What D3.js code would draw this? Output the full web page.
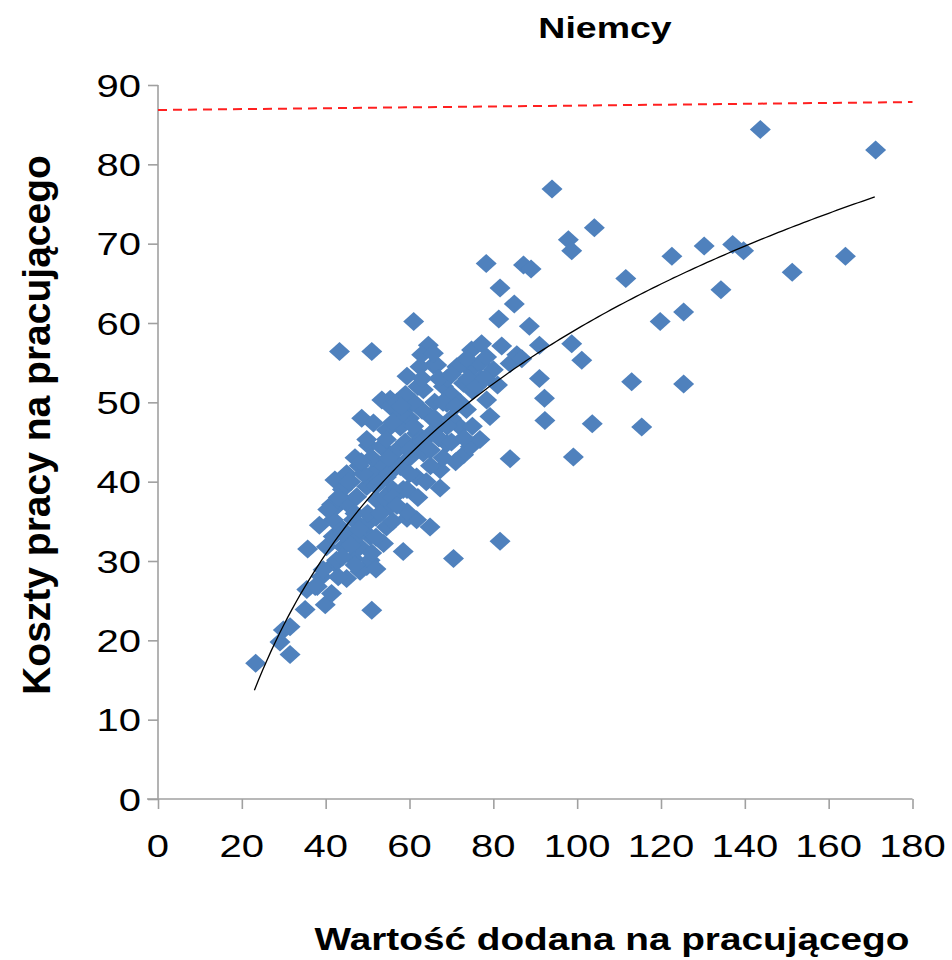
<!DOCTYPE html>
<html>
<head>
<meta charset="utf-8">
<script src="https://cdn.jsdelivr.net/npm/d3@7"></script>
<style>
  html, body { margin: 0; padding: 0; background: #fff; }
  svg text { font-family: "Liberation Sans", Arial, sans-serif; }
</style>
</head>
<body>
<svg id="chart" width="952" height="960"></svg>
<script>
// ---- data ----
const title = "Niemcy";
const xTitle = "Wartość dodana na pracującego";
const yTitle = "Koszty pracy na pracującego";
const xTicks = [0, 20, 40, 60, 80, 100, 120, 140, 160, 180];
const yTicks = [0, 10, 20, 30, 40, 50, 60, 70, 80, 90];
// scatter: value added per worker (x) vs labour cost per worker (y)
const valueAdded = [
  23.3,31.5,29.1,29.9,31.5,51.0,35.1,39.9,35.5,37.5,41.4,39.0,45.0,49.8,42.2,35.7,70.5,81.6,
  39.4,48.2,42.6,46.6,50.6,40.2,44.2,48.2,53.8,58.5,41.8,45.8,50.6,41.8,46.6,49.8,54.5,59.4,61.7,64.9,
  42.6,41.4,45.0,47.4,52.2,55.4,59.4,49.8,58.5,42.2,61.7,53.0,56.1,50.2,53.3,58.5,
  59.4,67.3,54.5,57.8,67.3,63.3,72.9,84.0,68.9,74.5,76.8,61.7,57.8,72.1,64.9,79.2,60.1,55.4,68.9,73.6,
  78.4,63.3,68.1,72.9,81.0,59.4,65.7,71.3,74.5,76.8,80.0,84.0,
  43.3,51.0,61.0,53.4,55.4,48.6,51.4,54.5,49.8,54.5,
  78.3,62.5,66.5,72.1,64.5,62.9,65.7,74.8,77.2,73.6,78.4,85.6,
  143.7,171.2,94.0,104.1,97.9,98.7,87.2,89.0,122.6,130.3,137.1,139.7,164.0,151.3,111.6,134.3,
  81.6,85.0,81.3,88.6,119.8,125.4,82.0,91.0,98.7,101.1,86.8,91.0,92.2,92.3,103.6,115.4,113.0,125.4,99.1,
  46.0,48.0,51.0,44.0,47.0,52.0,56.0,57.0,60.0,62.0,65.0,67.0,70.0,66.0,63.0,60.0,58.0,57.0,62.0,70.0,
  75.0,77.0,69.0,67.0,70.0,71.0,65.0,64.0,60.0,62.0,56.0,52.0,44.0,47.0,43.0,38.0,
  44.0,46.0,48.0,50.0,52.0,53.0,54.0,56.0,43.0,45.0,47.0,49.0,51.0,53.0,55.0,57.0,44.0,47.0,51.0,52.0,
  59.0,61.0,63.0,65.0,66.0,68.0,61.0,59.0,63.0,67.0,70.0,72.0,74.0,76.0,78.0,75.0,73.0,69.0,71.0,68.0,
  56.0,58.0,60.0,55.0,40.5,38.5,45.5,48.5
];
const labourCost = [
  17.1,18.2,19.8,21.3,21.7,23.8,23.9,24.5,26.4,26.8,25.9,28.0,27.8,29.3,29.7,31.5,30.3,32.5,
  28.9,28.7,30.1,30.3,30.1,31.8,31.8,31.8,32.2,31.2,33.1,33.1,33.1,35.2,35.2,34.7,34.3,35.4,35.2,34.3,
  36.9,37.1,37.3,38.1,37.7,36.9,36.2,39.4,39.0,40.2,40.6,41.9,42.7,44.6,44.4,44.6,
  39.0,39.2,40.6,41.9,41.5,43.6,43.4,42.9,44.8,44.4,45.3,46.1,46.9,46.9,48.2,48.2,49.7,50.4,49.9,49.1,
  50.3,51.6,52.0,52.4,52.2,53.3,54.7,54.5,54.1,54.9,54.1,54.9,
  56.4,56.4,60.2,50.3,49.5,48.0,47.4,46.5,45.3,45.3,
  67.5,54.5,54.7,54.7,57.2,56.0,56.2,56.6,57.4,55.5,55.7,56.0,
  84.4,81.8,76.9,72.0,70.5,69.1,67.3,66.8,68.4,69.7,69.9,69.1,68.4,66.4,65.6,64.2,
  64.4,62.4,60.5,59.6,60.2,61.4,57.1,57.2,57.4,55.3,55.5,53.0,50.5,47.7,47.3,46.9,52.6,52.3,43.1,
  40.0,42.0,41.0,39.0,36.0,39.5,39.0,44.0,43.0,45.0,46.0,47.0,48.0,50.0,49.0,48.0,48.5,50.0,52.0,51.0,
  51.5,53.0,53.0,45.5,45.0,42.5,42.0,40.0,41.0,38.0,35.0,35.5,34.0,33.0,28.0,26.8,
  33.5,32.0,34.0,36.0,33.0,36.0,38.0,38.0,38.0,41.0,43.0,41.0,43.0,40.0,41.0,37.0,30.5,29.5,31.0,29.0,
  45.0,47.0,45.0,44.0,48.0,50.0,50.0,51.0,53.0,53.0,53.5,50.0,53.0,52.0,53.0,47.0,45.5,47.0,49.5,43.0,
  47.5,49.5,44.0,43.0,36.5,34.5,40.0,42.5
];
// logarithmic trend line y = a*ln(x) + b
const trendA = 31.0;
const trendB = -83.5;
const trendRange = [23, 171];
// red dashed reference line (start and end values)
const refX = [0, 180];
const refY = [86.85, 87.85];

// ---- layout ----
const svg = d3.select("#chart");
const x = d3.scaleLinear().domain([0, 180]).range([158, 912.5]);
const y = d3.scaleLinear().domain([0, 90]).range([799, 85]);
const axisColor = "#a0a0a0";
const sx = 1.25;

// axes
const xAxis = svg.append("g").attr("transform", `translate(0,${y(0)})`)
  .call(d3.axisBottom(x).tickValues(xTicks).tickSize(10).tickFormat(""));
const yAxis = svg.append("g").attr("transform", `translate(${x(0)},0)`)
  .call(d3.axisLeft(y).tickValues(yTicks).tickSize(10).tickFormat(""));
[xAxis, yAxis].forEach(g => {
  g.select(".domain").attr("stroke", axisColor).attr("stroke-width", 1.6);
  g.selectAll(".tick line").attr("stroke", axisColor).attr("stroke-width", 1.6);
});
yAxis.select(".domain").attr("d", `M0,${y(90)}V${y(0)}`);
xAxis.select(".domain").attr("d", `M${x(0) - 11},0H${x(180)}`);

// tick labels
svg.append("g").selectAll("text").data(xTicks).join("text")
  .attr("transform", d => `translate(${x(d)},857) scale(${sx},1)`)
  .attr("text-anchor", "middle")
  .attr("font-size", 32)
  .attr("fill", "#000")
  .text(d => d);
svg.append("g").selectAll("text").data(yTicks).join("text")
  .attr("transform", d => `translate(141,${y(d) + 11.5}) scale(${sx},1)`)
  .attr("text-anchor", "end")
  .attr("font-size", 32)
  .attr("fill", "#000")
  .text(d => d);

// reference line
svg.append("line")
  .attr("x1", x(refX[0])).attr("y1", y(refY[0]))
  .attr("x2", x(refX[1])).attr("y2", y(refY[1]))
  .attr("stroke", "#ff2020").attr("stroke-width", 2)
  .attr("stroke-dasharray", "9,6");

// points
const pts = valueAdded.map((v, i) => ({ x: v, y: labourCost[i] }));
const diamond = "M0,-9.5L10.5,0L0,9.5L-10.5,0Z";
svg.append("g").selectAll("path").data(pts).join("path")
  .attr("d", diamond)
  .attr("transform", d => `translate(${x(d.x)},${y(d.y)})`)
  .attr("fill", "#4f81bd");

// trend line
const trendXs = d3.range(trendRange[0], trendRange[1] + 0.001, 1);
const line = d3.line().x(d => x(d)).y(d => y(trendA * Math.log(d) + trendB));
svg.append("path").datum(trendXs)
  .attr("d", line)
  .attr("fill", "none").attr("stroke", "#000").attr("stroke-width", 1.3);

// titles
svg.append("text")
  .attr("transform", `translate(605,38) scale(${sx},1)`)
  .attr("text-anchor", "middle").attr("font-size", 30).attr("font-weight", "bold")
  .text(title);
svg.append("text")
  .attr("transform", `translate(612,950) scale(${sx},1)`)
  .attr("text-anchor", "middle").attr("font-size", 31).attr("font-weight", "bold")
  .text(xTitle);
svg.append("text")
  .attr("transform", `translate(50,425) rotate(-90)`)
  .attr("text-anchor", "middle").attr("font-size", 39).attr("font-weight", "bold")
  .text(yTitle);
</script>
</body>
</html>
